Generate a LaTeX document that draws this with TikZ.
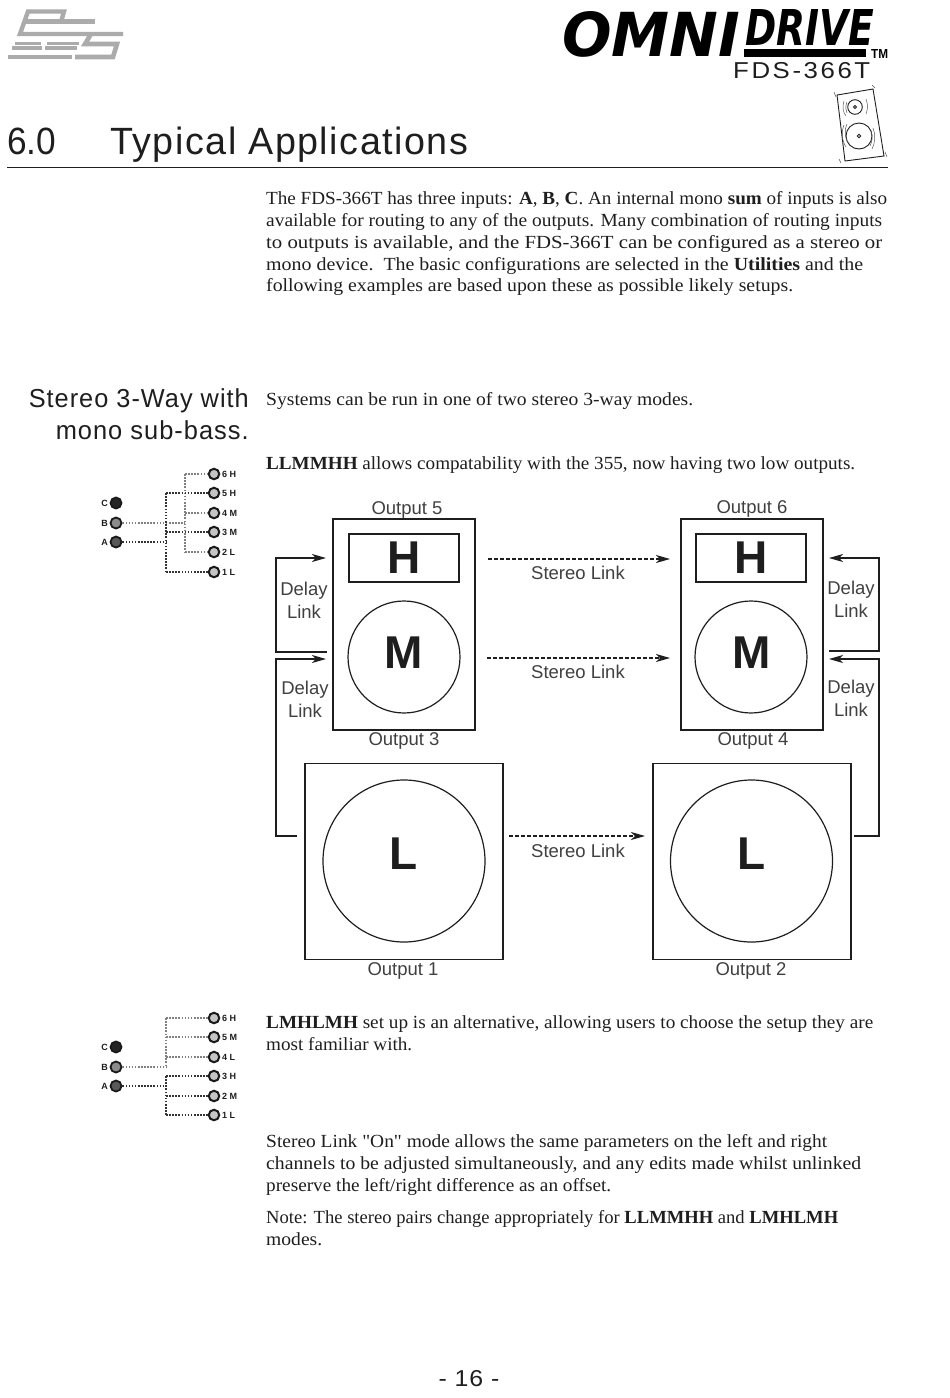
\documentclass[tikz,border=0pt]{standalone}
\usepackage{fontspec}
\usepackage{graphicx}
\usetikzlibrary{arrows.meta}
\setmainfont{Liberation Serif}
\newfontfamily\plainserif{Liberation Serif}
\newfontfamily\hsans[LetterSpace=4]{Liberation Sans}
\newfontfamily\wsans[LetterSpace=10]{Liberation Sans}
\newfontfamily\dsans{Liberation Sans}
\newfontfamily\logof{DejaVu Sans}
\newcommand{\fitw}[2]{\resizebox{#1pt}{\height}{#2}}
\newcommand{\bodyline}[4]{\node[bodytext] (#1) at (266,#2) {\fitw{#3}{#4}};}
\definecolor{ink}{HTML}{1E1E1E}
\definecolor{logogray}{HTML}{ABABAB}
\definecolor{portring}{HTML}{1A1A1A}
\definecolor{portfill}{HTML}{C4C4C4}
\tikzset{
  bodytext/.style={anchor=base west,inner sep=0pt,text=ink,font=\fontsize{18.5}{20}\selectfont},
  sidehead/.style={anchor=base east,inner sep=0pt,text=ink,font=\hsans\fontsize{26}{28}\selectfont},
  diaglabel/.style={inner sep=0pt,yshift=-1pt,text=ink!85,font=\dsans\fontsize{18.5}{20}\selectfont},
  bigletter/.style={inner sep=0pt,text=ink,font=\dsans\bfseries\fontsize{46}{48}\selectfont},
  boxline/.style={draw=ink,line width=1.2pt,inner sep=0pt},
  wire/.style={draw=ink,line width=1.2pt},
  wirearrow/.style={wire,-{Stealth[length=14pt,width=8pt,inset=4pt]}},
  linkarrow/.style={draw=ink,line width=1.1pt,dash pattern=on 4pt off 2pt,-{Stealth[length=14pt,width=8pt,inset=4pt]}},
  darkdots/.style={draw=black!80,line width=1.4pt,dash pattern=on 1.6pt off 1.5pt},
  lightdots/.style={draw=black!50,line width=1.3pt,dash pattern=on 1.6pt off 1.5pt},
  outport/.style={circle,draw=portring,line width=2pt,fill=portfill,minimum size=10.5pt,inner sep=0pt},
  inport/.style={circle,draw=portring,line width=1.8pt,minimum size=11pt,inner sep=0pt},
  portlabel/.style={anchor=west,inner sep=0pt,yshift=-0.5pt,text=ink,font=\dsans\bfseries\fontsize{9}{10}\selectfont},
  logobar/.style={draw=logogray,line width=3.4pt},
  sketch/.style={draw=ink,line width=0.9pt},
  sketchthin/.style={draw=ink!75,line width=0.5pt}
}
\begin{document}
\begin{tikzpicture}[x=1pt,y=-1pt]
\useasboundingbox (0,0) rectangle (950,1398);
% BSS logo
\draw[logogray,line width=4.4pt,line join=miter,fill=none] (61,22) -- (64,11.5) -- (28,11.5) -- (20,34) -- (123,34);
\draw[logogray,line width=4.2pt] (24,21.5) -- (95,21.5);
\draw[logogray,line width=4.6pt,line join=miter] (91,34) -- (85,44) -- (117,44) -- (113,57) -- (75,57);
\draw[logobar] (15,43.5) -- (41,43.5);
\draw[logobar] (47,43.5) -- (79,43.5);
\draw[logobar] (12,48) -- (42,48);
\draw[logobar] (45,48) -- (77,48);
\draw[logogray,line width=4.8pt] (8,57) -- (72,57);
% Omnidrive logo
\node[inner sep=0pt,anchor=south west] (omni) at (562,57.5) {\resizebox{178pt}{45pt}{\logof\bfseries\itshape OMNI}};
\node[inner sep=0pt,anchor=south west] (drive) at (745,46) {\resizebox{129pt}{36pt}{\logof\bfseries\itshape DRIVE}};
\fill[black] (744,49) rectangle (866,57);
\node[inner sep=0pt,anchor=south west] (tm) at (871,59) {\resizebox{17pt}{9pt}{\dsans\bfseries TM}};
\node[inner sep=0pt,anchor=base west,text=ink] (model) at (733,78) {\resizebox{137pt}{\height}{\wsans\fontsize{23}{25}\selectfont FDS-366T}};
% speaker sketch
\draw[sketch] (837,95) -- (873,89) -- (884,156) -- (845,161) -- cycle;
\draw[sketch] (855,107) circle (7.3);
\draw[sketch] (855,107) circle (1.5);
\draw[sketch] (859,136) circle (13);
\draw[sketch] (859,136) circle (1.8);
\draw[sketchthin] (844,101) .. controls (842,107) and (843,112) .. (846,116);
\draw[sketchthin] (847,102) .. controls (845,107) and (846,110) .. (847,113);
\draw[sketchthin] (866,99) .. controls (868,104) and (868,109) .. (866,114);
\draw[sketchthin] (844,125) .. controls (841,132) and (842,141) .. (846,147);
\draw[sketchthin] (847,124) .. controls (844,130) and (845,138) .. (848,143);
\draw[sketchthin] (873,128) .. controls (876,135) and (875,143) .. (872,149);
\draw[sketchthin] (870,146) .. controls (872,142) and (873,137) .. (871,131);
\draw[sketchthin] (834,92) -- (836,97);
\draw[sketchthin] (872,85) -- (875,88);
\draw[sketchthin] (839,159) -- (841,163);
\draw[sketchthin] (885,152) -- (887,157);
% heading
\node[inner sep=0pt,anchor=base west,text=ink] (secnum) at (7,154) {\fitw{49}{\dsans\fontsize{38}{40}\selectfont 6.0}};
\node[inner sep=0pt,anchor=base west,text=ink] (sectitle) at (110,154) {\fitw{358}{\hsans\fontsize{38}{40}\selectfont Typical Applications}};
\draw[ink,line width=1pt] (7,167) -- (888,167);
% intro
\bodyline{a1}{204}{621}{The FDS-366T has three inputs: \textbf{A}, \textbf{B}, \textbf{C}. An internal mono \textbf{sum} of inputs is also}
\bodyline{a2}{226}{616}{available for routing to any of the outputs. Many combination of routing inputs}
\bodyline{a3}{248}{616}{to outputs is available, and the FDS-366T can be configured as a stereo or}
\bodyline{a4}{270}{597}{mono device.\ \ The basic configurations are selected in the \textbf{Utilities} and the}
\bodyline{a5}{291}{527}{following examples are based upon these as possible likely setups.}
% side head
\node[sidehead] (sh1) at (249,407) {\fitw{220}{Stereo 3-Way with}};
\node[sidehead] (sh2) at (249,439) {\fitw{193}{mono sub-bass.}};
\bodyline{b1}{405}{427}{Systems can be run in one of two stereo 3-way modes.}
\bodyline{b2}{469}{589}{\textbf{LLMMHH} allows compatability with the 355, now having two low outputs.}
% first routing diagram
\foreach \n/\yy/\g in {c/503/15,b/523/55,a/542/35}{
  \node[inport,fill=black!\the\numexpr 100-\g\relax] (ia\n) at (116,\yy) {};
}
\node[portlabel,anchor=east] (lac) at (108,503) {C};
\node[portlabel,anchor=east] (lab) at (108,523) {B};
\node[portlabel,anchor=east] (laa) at (108,542) {A};
\coordinate (ta) at (166,542);
\coordinate (tb) at (185,523);
\draw[darkdots] (iaa) -- (ta);
\draw[lightdots] (iab) -- (tb);
\coordinate (bus5) at (166,493);\coordinate (bus3) at (166,532);\coordinate (bus1) at (166,572);
\coordinate (bus6) at (185,474);\coordinate (bus4) at (185,513);\coordinate (bus2) at (185,552);
\draw[lightdots] (bus6) -- (bus2);
\draw[darkdots] (bus5) -- (bus1);
\foreach \n/\yy/\t/\st in {6/474/6 H/lightdots,5/493/5 H/darkdots,4/513/4 M/lightdots,3/532/3 M/darkdots,2/552/2 L/lightdots,1/572/1 L/darkdots}{
  \node[outport] (o\n) at (214,\yy) {};
  \node[portlabel] (pl\n) at (222,\yy) {\t};
  \draw[\st] (bus\n) -- (o\n);
}
% speakers
\node[boxline,minimum width=142pt,minimum height=211pt] (s5) at (404,624.5) {};
\node[boxline,minimum width=110pt,minimum height=48pt] (h5) at (404,558) {};
\node[bigletter] (lh5) at (h5.center) {H};
\node[boxline,circle,minimum size=112pt] (m3) at (404,657) {};
\node[bigletter] (lm3) at (404,653) {M};
\node[boxline,minimum width=142pt,minimum height=211pt] (s6) at (752,624.5) {};
\node[boxline,minimum width=110pt,minimum height=48pt] (h6) at (751,558) {};
\node[bigletter] (lh6) at (h6.center) {H};
\node[boxline,circle,minimum size=112pt] (m4) at (751,657) {};
\node[bigletter] (lm4) at (752,653) {M};
\node[boxline,minimum width=198pt,minimum height=196pt] (s1) at (404,861.5) {};
\node[boxline,circle,minimum size=162pt] (l1) at (404,861) {};
\node[bigletter] (ll1) at (404,854) {L};
\node[boxline,minimum width=198pt,minimum height=196pt] (s2) at (752,861.5) {};
\node[boxline,circle,minimum size=162pt] (l2) at (751.5,861) {};
\node[bigletter] (ll2) at (752,854) {L};
% output labels
\node[diaglabel] (ot5) at (407,509) {Output 5};
\node[diaglabel] (ot6) at (752,508) {Output 6};
\node[diaglabel] (ot3) at (404,740) {Output 3};
\node[diaglabel] (ot4) at (753,740) {Output 4};
\node[diaglabel] (ot1) at (403,970) {Output 1};
\node[diaglabel] (ot2) at (751,970) {Output 2};
% delay links
\coordinate (dl1s) at (327,652);\coordinate (dl1e) at (326,558);
\draw[wirearrow] (dl1s) -- (276,652) -- (276,558) -- (dl1e);
\coordinate (dl2s) at (297,836);\coordinate (dl2e) at (326,659);
\draw[wirearrow] (dl2s) -- (276,836) -- (276,659) -- (dl2e);
\coordinate (dr1s) at (829,651);\coordinate (dr1e) at (829,558);
\draw[wirearrow] (dr1s) -- (879,651) -- (879,558) -- (dr1e);
\coordinate (dr2s) at (854,836);\coordinate (dr2e) at (829,659);
\draw[wirearrow] (dr2s) -- (879,836) -- (879,659) -- (dr2e);
\node[diaglabel] (d1a) at (304,590) {Delay};
\node[diaglabel] (d1b) at (304,611) {Link};
\node[diaglabel] (d2a) at (305,689) {Delay};
\node[diaglabel] (d2b) at (305,710) {Link};
\node[diaglabel] (d3a) at (851,589) {Delay};
\node[diaglabel] (d3b) at (851,609.5) {Link};
\node[diaglabel] (d4a) at (851,688) {Delay};
\node[diaglabel] (d4b) at (851,708.5) {Link};
% stereo links
\coordinate (k1s) at (488,559);\coordinate (k1e) at (670,559);
\coordinate (k2s) at (487,658);\coordinate (k2e) at (670,658);
\coordinate (k3s) at (509,836);\coordinate (k3e) at (645,836);
\draw[linkarrow] (k1s) -- (k1e);
\draw[linkarrow] (k2s) -- (k2e);
\draw[linkarrow] (k3s) -- (k3e);
\node[diaglabel] (st1) at (578,572) {Stereo Link};
\node[diaglabel] (st2) at (578,671) {Stereo Link};
\node[diaglabel] (st3) at (578,850) {Stereo Link};
% second block
\bodyline{c1}{1028}{607}{\textbf{LMHLMH} set up is an alternative, allowing users to choose the setup they are}
\bodyline{c2}{1050}{146}{most familiar with.}
\bodyline{c3}{1147}{561}{Stereo Link {\plainserif "On"} mode allows the same parameters on the left and right}
\bodyline{c4}{1169}{595}{channels to be adjusted simultaneously, and any edits made whilst unlinked}
\bodyline{c5}{1191}{345}{preserve the left/right difference as an offset.}
\bodyline{c6}{1223}{572}{Note: The stereo pairs change appropriately for \textbf{LLMMHH} and \textbf{LMHLMH}}
\bodyline{c7}{1245}{56}{modes.}
% second routing diagram
\foreach \n/\yy/\g in {c/1047/15,b/1067/55,a/1086/35}{
  \node[inport,fill=black!\the\numexpr 100-\g\relax] (ib\n) at (116,\yy) {};
}
\node[portlabel,anchor=east] (lbc) at (108,1047) {C};
\node[portlabel,anchor=east] (lbb) at (108,1067) {B};
\node[portlabel,anchor=east] (lba) at (108,1086) {A};
\coordinate (ua) at (166,1086);
\coordinate (ub) at (166,1067);
\draw[darkdots] (iba) -- (ua);
\draw[lightdots] (ibb) -- (ub);
\foreach \n/\yy/\t/\st in {6/1018/6 H/lightdots,5/1037/5 M/lightdots,4/1057/4 L/lightdots,3/1076/3 H/darkdots,2/1096/2 M/darkdots,1/1115/1 L/darkdots}{
  \coordinate (vb\n) at (166,\yy);
  \node[outport] (q\n) at (214,\yy) {};
  \node[portlabel] (ql\n) at (222,\yy) {\t};
  \draw[\st] (vb\n) -- (q\n);
}
\draw[lightdots] (vb6) -- (ub);
\draw[darkdots] (vb3) -- (vb1);
% page number
\node[inner sep=0pt,anchor=base,text=ink] (pg) at (469,1386) {\fitw{61}{\hsans\fontsize{23}{25}\selectfont - 16 -}};
\end{tikzpicture}
\end{document}
